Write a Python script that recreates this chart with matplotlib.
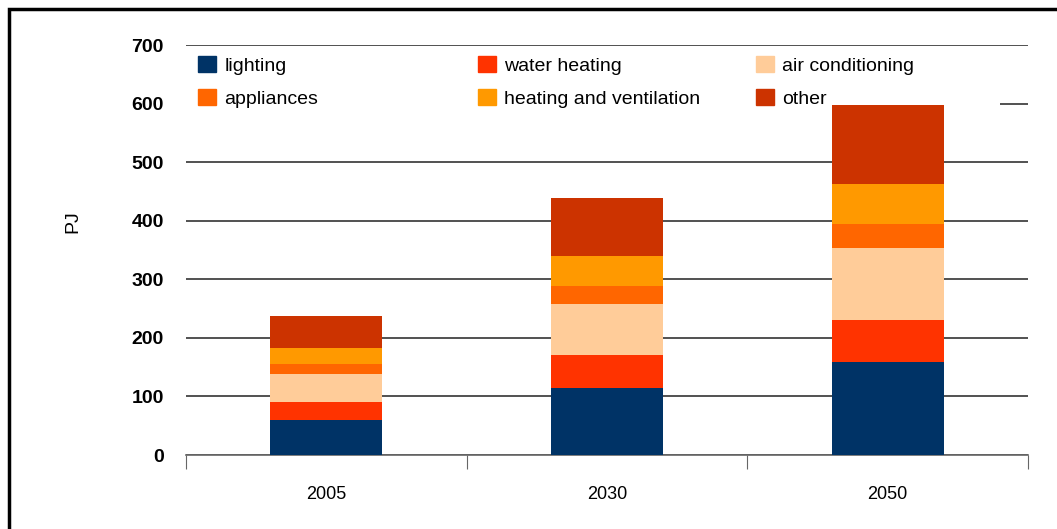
import numpy as np
import matplotlib.pyplot as plt
from matplotlib.patches import Patch

plt.rcParams['font.family'] = ['Liberation Sans', 'DejaVu Sans']

years = ['2005', '2030', '2050']
lighting = [60, 115, 159]
water_heating = [31, 55, 72]
air_conditioning = [48, 88, 123]
appliances = [17, 31, 41]
heating_ventilation = [27, 51, 68]
other = [54, 98, 135]

series = [('lighting', lighting, '#003366'),
          ('water heating', water_heating, '#FF3300'),
          ('air conditioning', air_conditioning, '#FFCC99'),
          ('appliances', appliances, '#FF6600'),
          ('heating and ventilation', heating_ventilation, '#FF9900'),
          ('other', other, '#CC3300')]

W, H = 1057, 529
fig = plt.figure(figsize=(W/100, H/100), dpi=100)
ax = fig.add_axes([186/W, 1 - 455/H, (1028 - 186)/W, 410/H])

x = np.arange(len(years))
bottom = np.zeros(len(years))
handles = {}
for name, vals, col in series:
    ax.bar(x, vals, 0.4, bottom=bottom, color=col, zorder=3)
    handles[name] = Patch(color=col)
    bottom += np.array(vals)

ax.set_xlim(-0.5, 2.5)
ax.set_ylim(0, 700)
ax.set_yticks(np.arange(0, 701, 100))
ax.yaxis.grid(True, color='#222222', linewidth=1.1)
ax.set_axisbelow(True)
for s in ['left', 'right', 'top']:
    ax.spines[s].set_visible(False)
ax.spines['bottom'].set_color('#666666')
ax.spines['bottom'].set_linewidth(1.2)
ax.tick_params(axis='y', length=0, pad=16, labelsize=14)
for lbl in ax.get_yticklabels():
    lbl.set_fontweight('bold')

# category ticks at boundaries, labels centered
ax.set_xticks([-0.5, 0.5, 1.5, 2.5])
ax.set_xticklabels([])
ax.set_xticks(x, minor=True)
ax.set_xticklabels(years, minor=True)
ax.tick_params(axis='x', which='major', length=10, color='#666666', direction='out')
ax.tick_params(axis='x', which='minor', length=0, pad=22, labelsize=13)
ax.set_ylabel('PJ', fontsize=14)
ax.yaxis.set_label_coords((81 - 186)/842, (455 - 221.5)/410)

# white area behind the legend hides the gridline (bars stay on top)
ax.add_patch(plt.Rectangle((186/W, 1 - 114/H), 814/W, 62/H,
                           transform=fig.transFigure, facecolor='white',
                           edgecolor='none', zorder=2, clip_on=False))

columns = [['lighting', 'appliances'],
           ['water heating', 'heating and ventilation'],
           ['air conditioning', 'other']]
col_x = [198, 478, 756]
for names, cx in zip(columns, col_x):
    leg = fig.legend([handles[n] for n in names], names, loc='upper left',
                     bbox_to_anchor=(cx/W, 1 - 56/H), frameon=False,
                     fontsize=14, handlelength=0.9, handleheight=0.9,
                     handletextpad=0.45, labelspacing=0.72, borderpad=0,
                     borderaxespad=0)
    leg.set_zorder(5)

# outer frame
fig.patches.append(plt.Rectangle((9/W, -0.1), 1.2, 1 - 9/H + 0.1,
                                 transform=fig.transFigure, fill=False,
                                 edgecolor='black', linewidth=2.5))

fig.savefig('out.png', dpi=100)
